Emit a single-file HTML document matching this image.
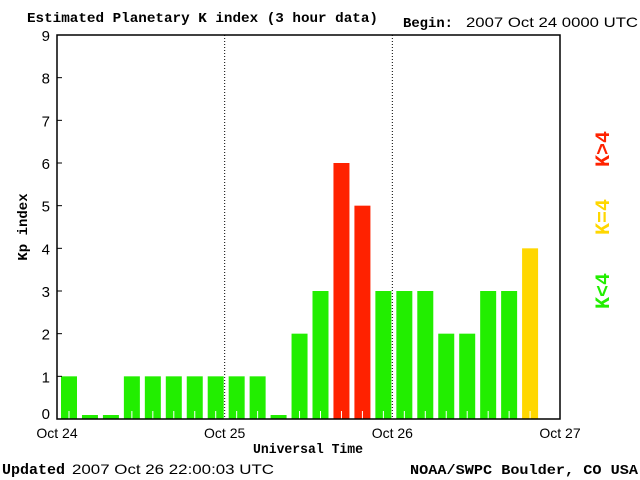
<!DOCTYPE html>
<html><head><meta charset="utf-8"><style>
body{margin:0;background:#fff;width:640px;height:480px;overflow:hidden}
svg{display:block}
.s{font-family:"Liberation Mono",monospace;font-weight:bold}
.m{font-family:"Liberation Sans",sans-serif}
</style></head><body>
<svg id="c" width="640" height="480">
<text class="s" x="27" y="22" font-size="14" textLength="351" lengthAdjust="spacingAndGlyphs">Estimated Planetary K index (3 hour data)</text>
<text class="s" x="403" y="27" font-size="14" textLength="50" lengthAdjust="spacingAndGlyphs">Begin:</text>
<text class="m" x="466" y="27" font-size="14" textLength="172" lengthAdjust="spacingAndGlyphs">2007 Oct 24 0000 UTC</text>
<text class="s" x="2" y="474" font-size="15" textLength="63" lengthAdjust="spacingAndGlyphs">Updated</text>
<text class="m" x="72" y="474" font-size="14" textLength="202" lengthAdjust="spacingAndGlyphs">2007 Oct 26 22:00:03 UTC</text>
<text class="s" x="410" y="474" font-size="14" textLength="228" lengthAdjust="spacingAndGlyphs">NOAA/SWPC Boulder, CO USA</text>
<text class="s" x="253" y="453" font-size="14" textLength="110" lengthAdjust="spacingAndGlyphs">Universal Time</text>
<text class="s" transform="translate(27,227) rotate(-90)" font-size="14" text-anchor="middle">Kp index</text>
<text class="s" transform="translate(609,149) rotate(-90)" font-size="20" fill="#ff2200" text-anchor="middle">K&gt;4</text>
<text class="s" transform="translate(609,217) rotate(-90)" font-size="20" fill="#ffd700" text-anchor="middle">K=4</text>
<text class="s" transform="translate(609,291) rotate(-90)" font-size="20" fill="#22ee00" text-anchor="middle">K&lt;4</text>
<g id="bars"></g>
<g id="axes"></g>
</svg>
<script>
const kpValues=[1,0,0,1,1,1,1,1,1,1,0,2,3,6,5,3,3,3,2,2,3,3,4];
const yTicks=[0,1,2,3,4,5,6,7,8,9];
const xLabels=["Oct 24","Oct 25","Oct 26","Oct 27"];
const L=57,R=560,T=35,B=419,N=24;
const ns="http://www.w3.org/2000/svg";
const y=v=>B-(v/9)*(B-T);
const x=i=>L+i*(R-L)/N;
function mk(t,a,p){const e=document.createElementNS(ns,t);for(const k in a)e.setAttribute(k,a[k]);p.appendChild(e);return e;}
const bars=document.getElementById('bars'),ax=document.getElementById('axes');
kpValues.forEach((v,i)=>{
 const col=v>4?'#ff2200':(v==4?'#ffd700':'#22ee00');
 const top=v==0?B-4:y(v);
 const r=mk('rect',{x:x(i)+4,y:top,width:16,height:B-top,fill:col},bars);
 
 
 if(v>0){const w=mk('line',{x1:x(i)+12,x2:x(i)+12,y1:B-8,y2:B,stroke:'#fff','stroke-width':1},bars);
 
 }
});
const fr=mk('rect',{x:L,y:T,width:R-L,height:B-T,fill:'none',stroke:'#000','stroke-width':1.5},ax);


yTicks.forEach(t=>{
 const tl=mk('line',{x1:L,x2:L+5,y1:y(t),y2:y(t),stroke:'#000'},ax);
 
 
 const tx=mk('text',{x:50,y:Math.min(y(t)+6,B),'text-anchor':'end','font-size':15,'font-family':'Liberation Sans, sans-serif'},ax);
 tx.textContent=t;
 
 
});
xLabels.forEach((s,i)=>{
 const xx=L+i*(R-L)/3;
 if(i>0&&i<3){const d=mk('line',{x1:xx,x2:xx,y1:T,y2:B,stroke:'#000','stroke-dasharray':'1,2'},ax);
 
 }
 const tx=mk('text',{x:xx,y:438,'text-anchor':'middle','font-size':14,'font-family':'Liberation Sans, sans-serif'},ax);
 tx.textContent=s;
 
 
});
</script>
</body></html>
